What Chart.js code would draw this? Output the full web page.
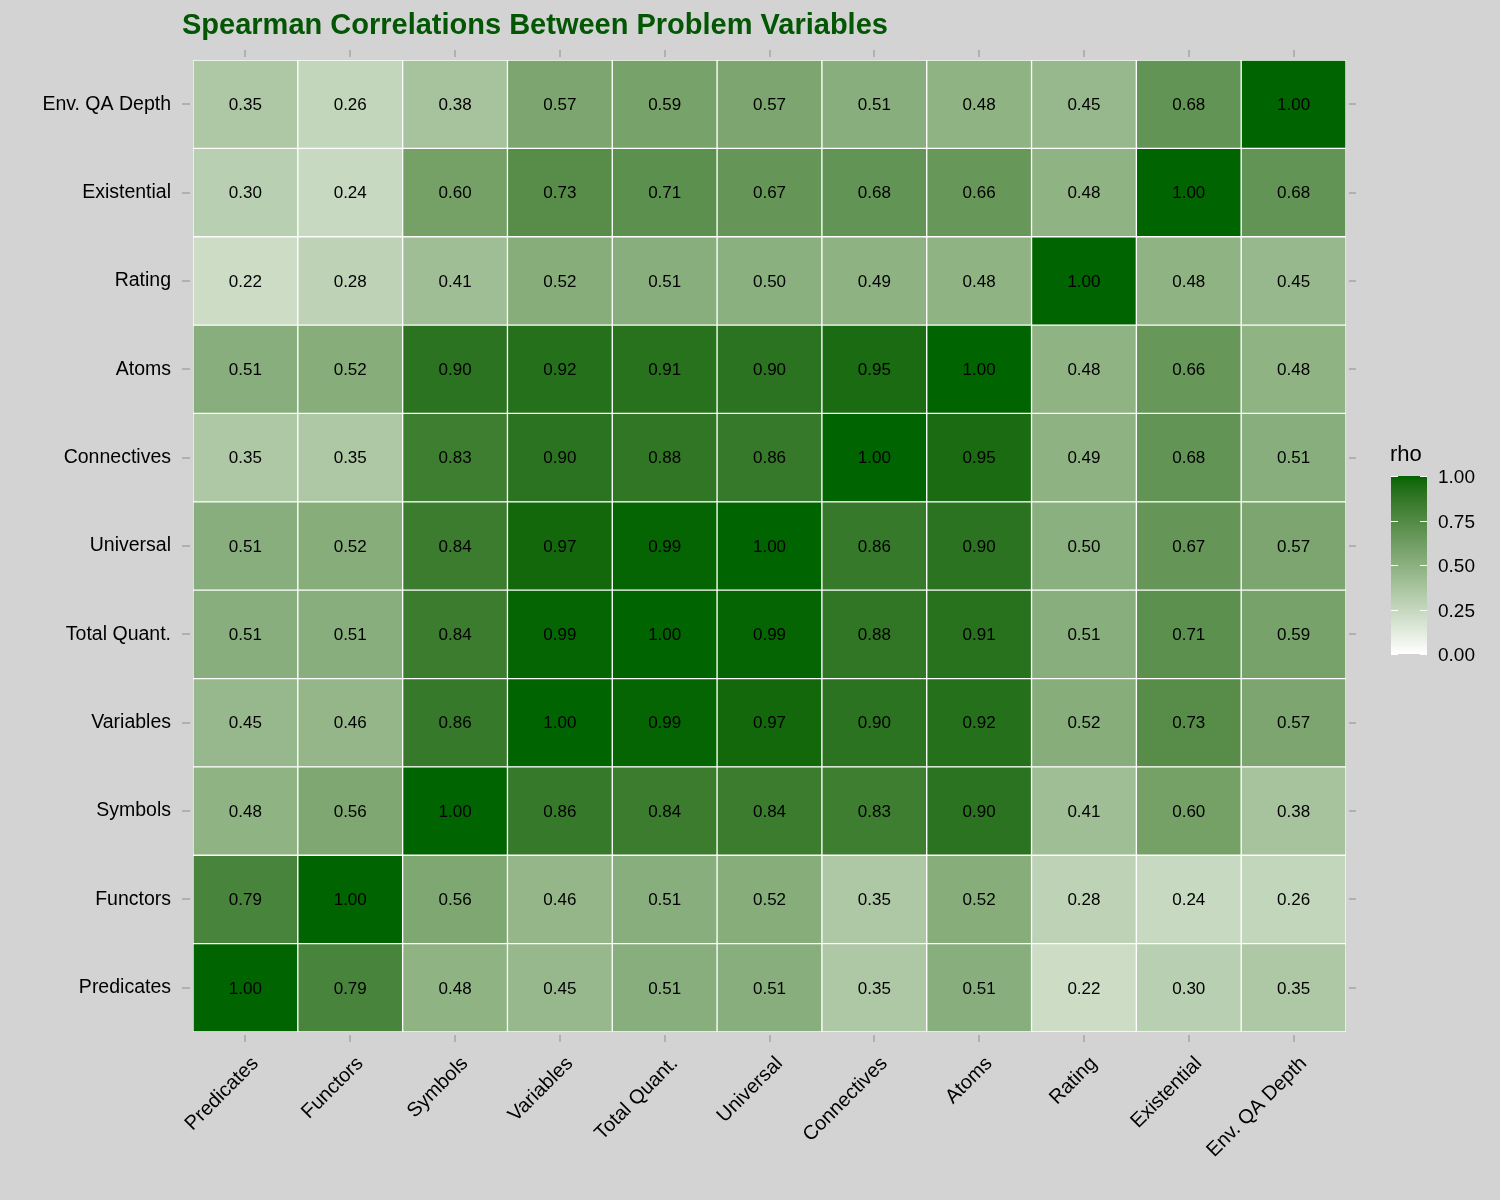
<!DOCTYPE html>
<html>
<head>
<meta charset="utf-8">
<script src="https://cdn.jsdelivr.net/npm/chart.js@4.4.1/dist/chart.umd.min.js"></script>
<style>
html,body{margin:0;padding:0;background:#d3d3d3;}
#wrap{width:1500px;height:1200px;position:relative;}
</style>
</head>
<body>
<div id="wrap"><canvas id="c" width="1500" height="1200"></canvas></div>
<script>
const variables = ["Predicates","Functors","Symbols","Variables","Total Quant.","Universal","Connectives","Atoms","Rating","Existential","Env. QA Depth"];
// rows: bottom (Predicates) to top (Env. QA Depth); columns in same order as variables
const rhoPredicates  = [1.00,0.79,0.48,0.45,0.51,0.51,0.35,0.51,0.22,0.30,0.35];
const rhoFunctors    = [0.79,1.00,0.56,0.46,0.51,0.52,0.35,0.52,0.28,0.24,0.26];
const rhoSymbols     = [0.48,0.56,1.00,0.86,0.84,0.84,0.83,0.90,0.41,0.60,0.38];
const rhoVariables   = [0.45,0.46,0.86,1.00,0.99,0.97,0.90,0.92,0.52,0.73,0.57];
const rhoTotalQuant  = [0.51,0.51,0.84,0.99,1.00,0.99,0.88,0.91,0.51,0.71,0.59];
const rhoUniversal   = [0.51,0.52,0.84,0.97,0.99,1.00,0.86,0.90,0.50,0.67,0.57];
const rhoConnectives = [0.35,0.35,0.83,0.90,0.88,0.86,1.00,0.95,0.49,0.68,0.51];
const rhoAtoms       = [0.51,0.52,0.90,0.92,0.91,0.90,0.95,1.00,0.48,0.66,0.48];
const rhoRating      = [0.22,0.28,0.41,0.52,0.51,0.50,0.49,0.48,1.00,0.48,0.45];
const rhoExistential = [0.30,0.24,0.60,0.73,0.71,0.67,0.68,0.66,0.48,1.00,0.68];
const rhoEnvQADepth  = [0.35,0.26,0.38,0.57,0.59,0.57,0.51,0.48,0.45,0.68,1.00];
const legendTicks = [0.00,0.25,0.50,0.75,1.00];
const rows = [rhoPredicates,rhoFunctors,rhoSymbols,rhoVariables,rhoTotalQuant,rhoUniversal,rhoConnectives,rhoAtoms,rhoRating,rhoExistential,rhoEnvQADepth];

// Lab interpolation white -> darkgreen (like scales::seq_gradient_pal)
function lin(c){c/=255;return c<=0.04045?c/12.92:Math.pow((c+0.055)/1.055,2.4);}
function gam(c){c=c<=0.0031308?12.92*c:1.055*Math.pow(c,1/2.4)-0.055;return Math.max(0,Math.min(255,Math.round(c*255)));}
const Xn=0.95047,Yn=1,Zn=1.08883;
function f(t){return t>0.008856?Math.cbrt(t):7.787*t+16/116;}
function fi(t){return t>0.206893?t*t*t:(t-16/116)/7.787;}
function rgb2lab(r,g,b){r=lin(r);g=lin(g);b=lin(b);
 const X=0.4124564*r+0.3575761*g+0.1804375*b,Y=0.2126729*r+0.7151522*g+0.0721750*b,Z=0.0193339*r+0.1191920*g+0.9503041*b;
 const fx=f(X/Xn),fy=f(Y/Yn),fz=f(Z/Zn);return [116*fy-16,500*(fx-fy),200*(fy-fz)];}
function lab2rgb(L,a,b){const fy=(L+16)/116,fx=fy+a/500,fz=fy-b/200;
 const X=Xn*fi(fx),Y=Yn*fi(fy),Z=Zn*fi(fz);
 const r=3.2404542*X-1.5371385*Y-0.4985314*Z,g=-0.9692660*X+1.8760108*Y+0.0415560*Z,bb=0.0556434*X-0.2040259*Y+1.0572252*Z;
 return `rgb(${gam(r)},${gam(g)},${gam(bb)})`;}
const lowLab=rgb2lab(255,255,255), highLab=rgb2lab(0,100,0);
function colorFor(v){const t=Math.max(0,Math.min(1,v));
 return lab2rgb(lowLab[0]+(highLab[0]-lowLab[0])*t,lowLab[1]+(highLab[1]-lowLab[1])*t,lowLab[2]+(highLab[2]-lowLab[2])*t);}

const FONT="'Liberation Sans', Arial, sans-serif";
const datasets = rows.map((vals,i)=>({
  label: variables[i],
  data: vals.map(()=>[i,i+1]),
  backgroundColor: vals.map(colorFor),
  borderColor: '#ffffff',
  borderWidth: 1,
  borderSkipped: false,
  grouped: false,
  barPercentage: 1.0,
  categoryPercentage: 1.0
}));

const deco = {
  id:'deco',
  beforeDraw(chart){const c=chart.ctx;c.save();c.fillStyle='#d3d3d3';c.fillRect(0,0,chart.width,chart.height);c.restore();},
  afterDatasetsDraw(chart){
    const c=chart.ctx, xs=chart.scales.x, ys=chart.scales.y, ca=chart.chartArea;
    c.save();
    // cell labels
    c.font='17px '+FONT; c.fillStyle='#000'; c.textAlign='center'; c.textBaseline='middle';
    rows.forEach((vals,i)=>{vals.forEach((v,j)=>{
      c.fillText(v.toFixed(2), xs.getPixelForValue(j), ys.getPixelForValue(i+0.5)+1);
    });});
    // tick marks on four sides
    c.strokeStyle='#b0b0b0'; c.lineWidth=2;
    variables.forEach((_,j)=>{const x=Math.round(xs.getPixelForValue(j));
      c.beginPath();c.moveTo(x,ca.top-10);c.lineTo(x,ca.top-3);c.stroke();
      c.beginPath();c.moveTo(x,ca.bottom+3);c.lineTo(x,ca.bottom+10);c.stroke();});
    variables.forEach((_,i)=>{const y=Math.round(ys.getPixelForValue(i+0.5));
      c.beginPath();c.moveTo(ca.left-11,y);c.lineTo(ca.left-3,y);c.stroke();
      c.beginPath();c.moveTo(ca.right+3,y);c.lineTo(ca.right+10,y);c.stroke();});
    // title
    c.font='bold 29px '+FONT; c.fillStyle='#035603'; c.textAlign='left'; c.textBaseline='alphabetic';
    c.fillText('Spearman Correlations Between Problem Variables',182,34);
    // colorbar legend
    const bx=1391,bw=36,btop=476,bbot=654;
    for(let y=btop;y<bbot;y++){const t=1-(y+0.5-btop)/(bbot-btop);c.fillStyle=colorFor(t);c.fillRect(bx,y,bw,1);}
    c.strokeStyle='#ffffff'; c.lineWidth=1;
    c.font='19px '+FONT; c.fillStyle='#000'; c.textAlign='left'; c.textBaseline='middle';
    legendTicks.forEach(t=>{const y=Math.round(bbot-(bbot-btop)*t)+0.5;
      c.beginPath();c.moveTo(bx,y);c.lineTo(bx+7,y);c.moveTo(bx+bw-7,y);c.lineTo(bx+bw,y);c.stroke();
      c.fillText(t.toFixed(2),1438,y+1);});
    c.font='22px '+FONT; c.textBaseline='alphabetic';
    c.fillText('rho',1390,461);
    c.restore();
  }
};

new Chart(document.getElementById('c'),{
  type:'bar',
  data:{labels:variables,datasets},
  options:{
    responsive:false, animation:false,
    layout:{padding:{left:0,top:60,right:154,bottom:0}},
    plugins:{legend:{display:false},title:{display:false},tooltip:{enabled:false}},
    scales:{
      x:{type:'category',offset:true,grid:{display:false},border:{display:false},
         ticks:{color:'#000',font:{family:FONT,size:20},minRotation:45,maxRotation:45,padding:12,labelOffset:10,autoSkip:false},
         afterFit(s){s.height=1200-1032;}},
      y:{type:'linear',min:0,max:11,grid:{display:false},border:{display:false},
         afterBuildTicks(s){s.ticks=variables.map((_,i)=>({value:i+0.5}));},
         ticks:{color:'#000',font:{family:FONT,size:19.5},padding:14,autoSkip:false,
                callback:(v)=>variables[Math.floor(v)]},
         afterFit(s){s.width=193;}}
    }
  },
  plugins:[deco]
});
</script>
</body>
</html>
